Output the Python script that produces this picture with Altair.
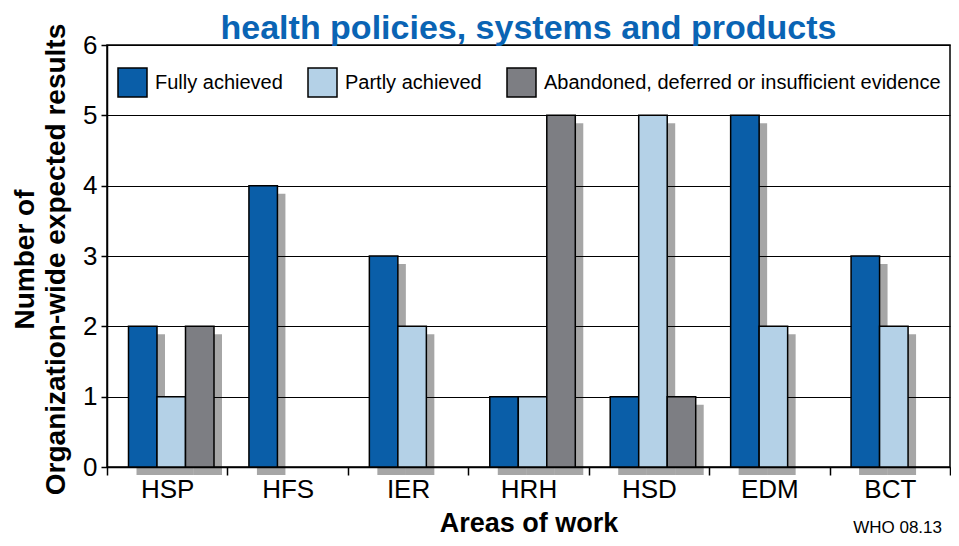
import altair as alt
import pandas as pd

# ---- data ----
categories = ["HSP", "HFS", "IER", "HRH", "HSD", "EDM", "BCT"]
fully = [2, 4, 3, 1, 1, 5, 3]
partly = [1, 0, 2, 1, 5, 2, 2]
abandoned = [2, 0, 0, 5, 1, 0, 0]
series = ["Fully achieved", "Partly achieved",
          "Abandoned, deferred or insufficient evidence"]
colors = ["#0a5ea8", "#b4d1e7", "#7d7e83"]
y_ticks = [0, 1, 2, 3, 4, 5, 6]
title_text = "health policies, systems and products"
x_title = "Areas of work"
y_title = ["Number of", "Organization-wide expected results"]
note_text = "WHO 08.13"

rows = []
for s, vals in zip(series, [fully, partly, abandoned]):
    for c, v in zip(categories, vals):
        if v > 0:
            rows.append({"area": c, "status": s, "count": v})
df = pd.DataFrame(rows)

W, H = 843, 422
FONT = "Liberation Sans"

x_scale = alt.Scale(paddingInner=0, paddingOuter=0)
y_scale = alt.Scale(domain=[0, 6], nice=False)

x_axis = alt.Axis(labelAngle=0, labelFontSize=26, labelFont=FONT, labelColor="black",
                  labelPadding=1, tickBand="extent", tickSize=8, tickColor="black",
                  tickWidth=1.5, domainColor="black", domainWidth=1.5, grid=False,
                  title=x_title, titleFont=FONT, titleFontSize=27, titleFontWeight="bold",
                  titleColor="black", titleX=W / 2, titleY=64, titleAlign="center",
                  titleBaseline="alphabetic")
y_axis = alt.Axis(values=y_ticks, grid=True, gridColor="black", gridWidth=1, gridOpacity=1,
                  domainColor="black", domainWidth=1.5, tickColor="black", tickSize=6,
                  tickWidth=1.5, labelFontSize=26, labelFont=FONT, labelColor="black",
                  labelPadding=4, title=y_title, titleFont=FONT, titleFontSize=28,
                  titleFontWeight="bold", titleColor="black", titleAngle=270,
                  titleX=-82, titleY=214, titleAlign="center", titleBaseline="middle",
                  titleLineHeight=31)

x_enc = alt.X("area:N", sort=categories, scale=x_scale, axis=x_axis)
y_enc = alt.Y("count:Q", scale=y_scale, axis=y_axis)

shadow = alt.Chart(df).mark_bar(color="black", opacity=0.35, yOffset=8, y2Offset=8).encode(
    x=x_enc,
    xOffset=alt.XOffset("status:N", sort=series,
                        scale=alt.Scale(domain=series, range=[29.5, 115],
                                        paddingInner=0, paddingOuter=0)),
    y=y_enc,
)

bars = alt.Chart(df).mark_bar(stroke="black", strokeWidth=1.5).encode(
    x=x_enc,
    xOffset=alt.XOffset("status:N", sort=series,
                        scale=alt.Scale(domain=series, range=[21.5, 107],
                                        paddingInner=0, paddingOuter=0)),
    y=y_enc,
    color=alt.Color("status:N", sort=series,
                    scale=alt.Scale(domain=series, range=colors),
                    legend=alt.Legend(orient="none", legendX=10, legendY=22,
                                      direction="horizontal", title=None,
                                      symbolType="square", symbolSize=841,
                                      symbolStrokeColor="black", symbolStrokeWidth=1.5,
                                      symbolOpacity=1, labelFontSize=20, labelFont=FONT,
                                      labelColor="black", labelOffset=7,
                                      columnPadding=22, padding=0, labelLimit=0)),
)

title_df = pd.DataFrame({"t": [title_text]})
title = alt.Chart(title_df).mark_text(
    font=FONT, fontSize=34, fontWeight="bold", color="#0a64b4",
    align="center", baseline="alphabetic").encode(
    text="t:N", x=alt.value(W / 2), y=alt.value(-6))

note_df = pd.DataFrame({"t": [note_text]})
note = alt.Chart(note_df).mark_text(
    font=FONT, fontSize=17, color="black", align="right", baseline="alphabetic").encode(
    text="t:N", x=alt.value(W - 8), y=alt.value(H + 66))

chart = alt.layer(shadow, bars, title, note).resolve_scale(
    xOffset="independent"
).properties(
    width=W, height=H,
    autosize=alt.AutoSizeParams(type="none"),
    padding={"left": 99, "top": 37, "right": 1, "bottom": 70},
    background="white",
).configure_view(stroke="black", strokeWidth=1.5)

chart.save("out.html", embed_options={"renderer": "svg", "actions": False})
